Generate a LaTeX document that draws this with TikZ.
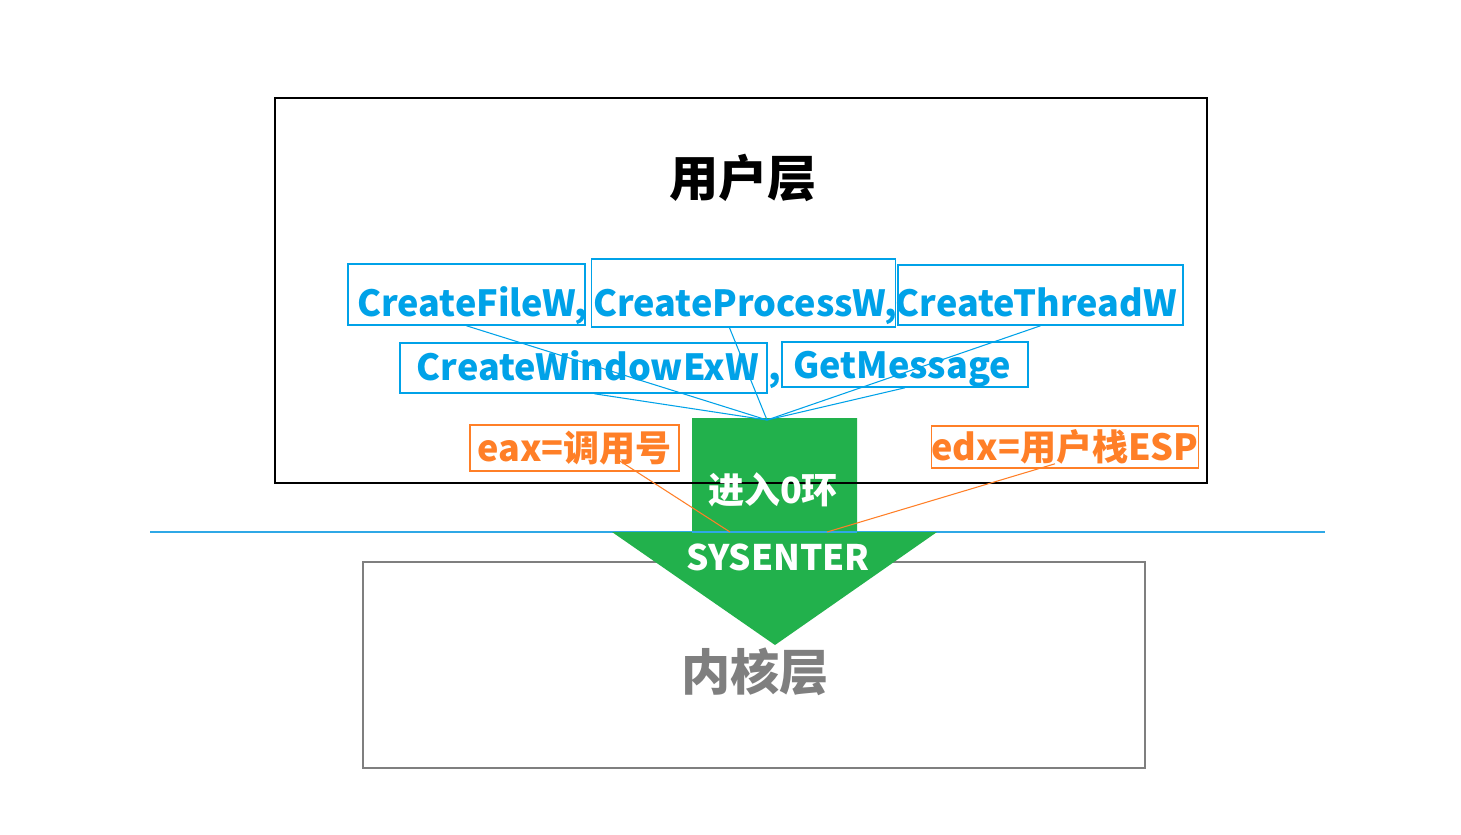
\documentclass[tikz,border=0pt]{standalone}
\usepackage{fontspec}
\setmainfont{Noto Sans CJK SC}
\usetikzlibrary{calc}
\definecolor{fblue}{HTML}{00A2E8}
\definecolor{forange}{HTML}{FF7F27}
\definecolor{fgreen}{HTML}{22B14C}
\definecolor{fgray}{HTML}{7F7F7F}
\definecolor{lineblue}{HTML}{2FA8E6}
\newcommand{\shifttext}[2]{\hspace*{#1}#2\hspace*{-#1}}
\tikzset{
  funcbox/.style={draw=fblue, line width=0.9pt, inner sep=0pt, text=fblue, text depth=0pt,
    font=\bfseries\fontsize{20.5}{22}\selectfont},
  regbox/.style={draw=forange, line width=0.9pt, inner sep=0pt, text=forange,
    font=\bfseries\fontsize{20.5}{22}\selectfont},
  funcline/.style={draw=fblue, line width=0.6pt},
  regline/.style={draw=forange, line width=0.6pt},
  titletext/.style={font=\bfseries\fontsize{28}{30}\selectfont},
  arrowtext/.style={text=white, font=\bfseries\fontsize{20}{22}\selectfont}
}
\begin{document}
\begin{tikzpicture}[x=0.02cm,y=-0.02cm]
\useasboundingbox[fill=white] (0,0) rectangle (1461,835);
% kernel box
\node[draw=fgray, line width=1pt, minimum width=782*0.02cm, minimum height=206*0.02cm, inner sep=0pt] (kernel) at (754,665) {};
% separating line
\coordinate (sepL) at (150,532);
\coordinate (sepR) at (1325,532);
\draw[lineblue, line width=1.2pt] (sepL) -- (sepR);
% green arrow
\fill[fgreen] (692,418) -- (857,418) -- (857,532) -- (937,532) -- (775,645) -- (612,532) -- (692,532) -- cycle;
\coordinate (conv) at (767,420);
\coordinate (eaxend) at (730,532);
\coordinate (edxend) at (827,532);
\draw[lineblue, line width=1.2pt] (692,532) -- (857,532);
% user box
\node[draw=black, line width=1pt, minimum width=932*0.02cm, minimum height=385*0.02cm, inner sep=0pt] (user) at (741,290.5) {};
% titles
\node[titletext] (utitle) at (743,178) {用户层};
\node[titletext, text=fgray] (ktitle) at (755,672) {内核层};
% function boxes
\node[funcbox, text height=43*0.02cm, minimum width=237*0.02cm, minimum height=61*0.02cm] (cfw) at (466.5,294.5) {\shifttext{0.12cm}{CreateFileW,}};
\node[funcbox, text height=46*0.02cm, minimum width=299*0.02cm, minimum height=68*0.02cm] (cpw) at (743.5,293) {\shifttext{0.04cm}{CreateProcessW,}};
\node[funcbox, text height=42*0.02cm, minimum width=285*0.02cm, minimum height=60*0.02cm] (cth) at (1040.5,295) {\hspace*{-0.08cm}CreateThreadW\hspace*{0.08cm}};
\node[funcbox, text height=24*0.02cm, minimum width=367*0.02cm, minimum height=50*0.02cm] (cwe) at (583.5,368) {\shifttext{0.09cm}{CreateWindowExW}};
\node[funcbox, text height=27*0.02cm, minimum width=246*0.02cm, minimum height=45*0.02cm] (gm) at (905,364.5) {\hspace*{-0.06cm}GetMessage\hspace*{0.06cm}};
\node[text=fblue, font=\bfseries\fontsize{20.5}{22}\selectfont, inner sep=0pt, anchor=base] (comma) at (775,380) {,};
% connectors
\draw[funcline] (cfw.south) -- (conv);
\draw[funcline] ($(cpw.south)+(-14,0)$) -- (conv);
\draw[funcline] (cth.south) -- (conv);
\draw[funcline] ($(cwe.south)+(11,0)$) -- (conv);
\draw[funcline] (gm.south) -- (conv);
% register boxes
\node[regbox, minimum width=209*0.02cm, minimum height=46*0.02cm] (eax) at (574.5,448) {eax=调用号};
\node[regbox, minimum width=266*0.02cm, minimum height=42*0.02cm] (edx) at (1065,447) {edx=用户栈ESP};
\draw[regline] ($(eax.south)+(45,-11)$) -- (eaxend);
\draw[regline] ($(edx.south)+(-10,-5)$) -- (edxend);
% arrow texts
\node[arrowtext, font=\bfseries\fontsize{20.5}{22}\selectfont] (ring) at (773,490) {进入0环};
\node[arrowtext] (sysenter) at (778,557) {SYSENTER};
\end{tikzpicture}
\end{document}
